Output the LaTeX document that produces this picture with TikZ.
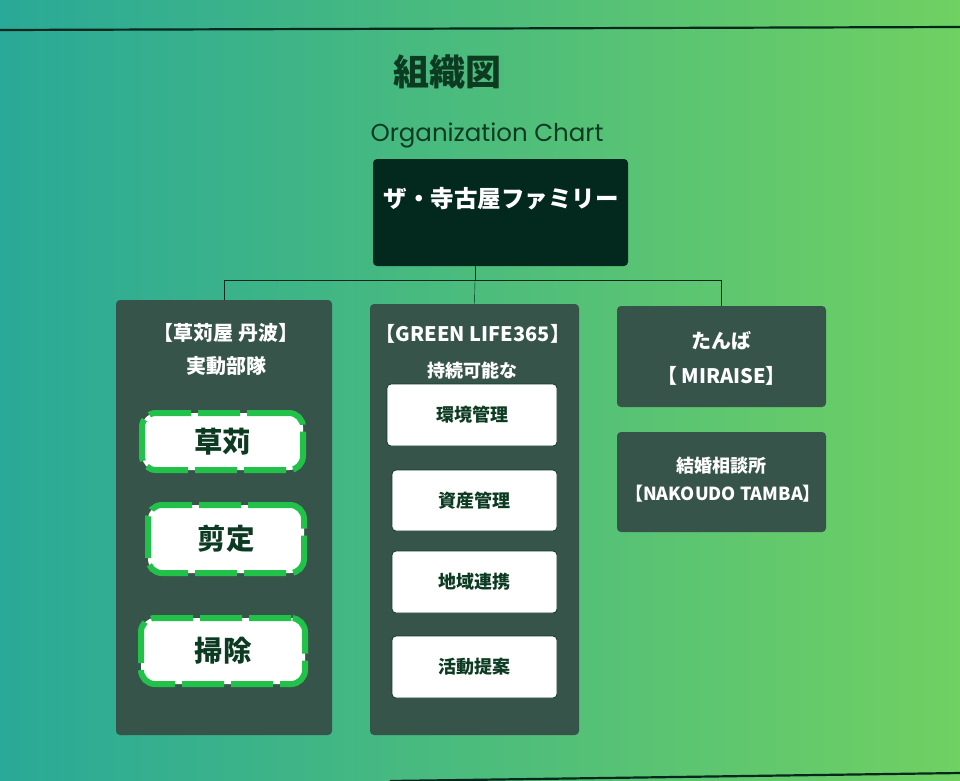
\documentclass[tikz,border=0pt]{standalone}
\usepackage{fontspec}
\setmainfont{Noto Sans CJK JP}
\newfontfamily\poppins{Poppins}
\usepackage{xcolor}
\definecolor{Lagoon}{HTML}{29A997}
\definecolor{Fresh Lime}{HTML}{70D062}
\definecolor{Deep Forest}{HTML}{03281D}
\definecolor{Moss Slate}{HTML}{37544B}
\definecolor{Leaf}{HTML}{22C24A}
\definecolor{Pine Ink}{HTML}{0D3B22}
\colorlet{cBgL}{Lagoon}
\colorlet{cBgR}{Fresh Lime}
\colorlet{cHead}{Deep Forest}
\colorlet{cPanel}{Moss Slate}
\colorlet{cDash}{Leaf}
\colorlet{cInk}{Pine Ink}
\usetikzlibrary{positioning}
\tikzset{
	x=1pt,
	y=-1pt,
	line width=1.6pt,
	head/.style={
		fill=cHead,
		rounded corners=4pt,
		inner sep=0pt
	},
	panel/.style={
		fill=cPanel,
		rounded corners=4pt,
		inner sep=0pt
	},
	panel text/.style={
		text=white,
		font=\fontsize{20}{22}\selectfont\bfseries
	},
	small text/.style={
		text=white,
		font=\fontsize{18}{20}\selectfont\bfseries
	},
	task/.style={
		draw=cDash,
		fill=white,
		line width=6pt,
		dash pattern=on 42pt off 7pt,
		rounded corners=14pt,
		inner sep=0pt,
		text=cInk,
		font=\fontsize{28.5}{30}\selectfont\bfseries
	},
	duty/.style={
		draw=cInk,
		fill=white,
		line width=.8pt,
		rounded corners=4pt,
		inner sep=0pt,
		text=cInk,
		font=\fontsize{18}{20}\selectfont\bfseries
	}
}

\begin{document}
\begin{tikzpicture}
	\useasboundingbox (0,0) rectangle (960,780);
	\shade[left color=cBgL, right color=cBgR] (0,0) rectangle (960,780);
	\draw[line width=2.2pt, cHead] (0,30) -- (960,27);
	\draw[line width=2.2pt, cHead] (390,781) -- (960,773);

	\node[text=cInk, font=\fontsize{36}{38}\selectfont\bfseries] (title) at (447,72) {組織図};
	\node[text=cInk, font=\poppins\fontsize{24.5}{26}\selectfont] (subtitle) at (487,135) {Organization Chart};

	% top
	\node[head, minimum width=255, minimum height=107] (family) at (500.5,212.5) {};
	\node[text=white, font=\fontsize{23.5}{25}\selectfont\bfseries] (family text) at (501,199) {ザ・寺古屋ファミリー};

	% groups
	\node[panel, minimum width=216, minimum height=435] (kariya) at (224,517.5) {};
	\node[panel, minimum width=209, minimum height=431] (greenlife) at (474.5,519.5) {};
	\node[panel, minimum width=209, minimum height=101] (tanba) at (721.5,356.5) {};
	\node[panel, minimum width=209, minimum height=100] (nakoudo) at (721.5,482) {};

	\coordinate (bus) at (475,280);
	\draw[cHead] (bus |- family.south) -- (bus);
	\draw[cHead] (bus) -| (kariya.north);
	\draw[cHead] (bus) -- (greenlife.north);
	\draw[cHead] (bus) -| (tanba.north);

	\node[panel text] (kariya 1) at (226,333) {【草苅屋 丹波】};
	\node[panel text] (kariya 2) at (226,366) {実動部隊};
	\node[panel text] (greenlife 1) at (473,334) {【GREEN LIFE365】};
	\node[small text] (greenlife 2) at (472,371) {持続可能な};
	\node[panel text] (tanba 1) at (721.5,341) {たんば};
	\node[panel text] (tanba 2) at (721.5,376) {【 MIRAISE】};
	\node[small text] (nakoudo 1) at (721.5,466) {結婚相談所};
	\node[small text] (nakoudo 2) at (723,494) {【NAKOUDO TAMBA】};

	% field work
	\node[task, minimum width=161, minimum height=57] (kusakari) at (222.5,441.5) {草苅};
	\node[task, minimum width=156, minimum height=68] (sentei) at (226,539) {剪定};
	\node[task, minimum width=164, minimum height=66] (souji) at (223,651) {掃除};

	% management
	\node[duty, minimum width=170, minimum height=62] (kankyo) at (472,415) {環境管理};
	\node[duty, minimum width=165, minimum height=61] (shisan) at (474.5,500.5) {資産管理};
	\node[duty, minimum width=165, minimum height=62] (chiiki) at (474.5,582) {地域連携};
	\node[duty, minimum width=165, minimum height=62] (katsudo) at (474.5,667) {活動提案};
\end{tikzpicture}
\end{document}
